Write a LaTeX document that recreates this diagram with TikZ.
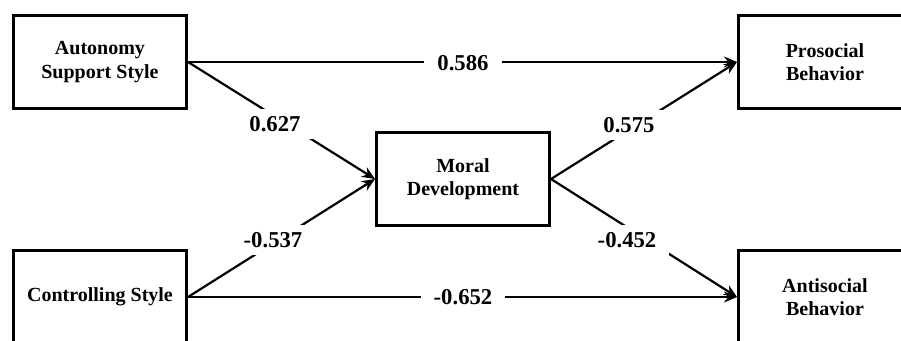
\documentclass[tikz,border=0pt]{standalone}
\usepackage{fontspec}
\setmainfont{Liberation Serif}
\usetikzlibrary{arrows.meta}
\begin{document}
\begin{tikzpicture}[x=1pt,y=-1pt,
  box/.style={draw, line width=3pt, minimum width=173pt, minimum height=93pt, align=center,
    font=\fontsize{20}{23.5}\selectfont\bfseries, inner sep=0pt},
  conn/.style={line width=2.2pt, -{Stealth[length=13pt,width=11pt]}},
  lbl/.style={fill=white, font=\fontsize{22.7}{24}\selectfont\bfseries, inner xsep=13pt, inner ysep=7pt}]
\clip (0,0) rectangle (901,340);
\fill[white] (0,0) rectangle (901,340);
\node[box] (aut) at (100,62) {Autonomy\\Support Style};
\node[box] (con) at (100,297) {Controlling Style};
\node[box] (mor) at (463,179) {Moral\\Development};
\node[box] (pro) at (825,62) {Prosocial\\Behavior};
\node[box] (ant) at (825,297) {Antisocial\\Behavior};
\draw[conn] (aut.east) -- (pro.west);
\draw[conn] (aut.east) -- (mor.west);
\draw[conn] (con.east) -- (mor.west);
\draw[conn] (mor.east) -- (pro.west);
\draw[conn] (mor.east) -- (ant.west);
\draw[conn] (con.east) -- (ant.west);
\node[lbl] (l1) at (463,63) {0.586};
\node[lbl] (l2) at (275,124) {0.627};
\node[lbl] (l3) at (273,240) {-0.537};
\node[lbl] (l4) at (629,125) {0.575};
\node[lbl] (l5) at (627,240) {-0.452};
\node[lbl] (l6) at (463,297) {-0.652};
\end{tikzpicture}
\end{document}
